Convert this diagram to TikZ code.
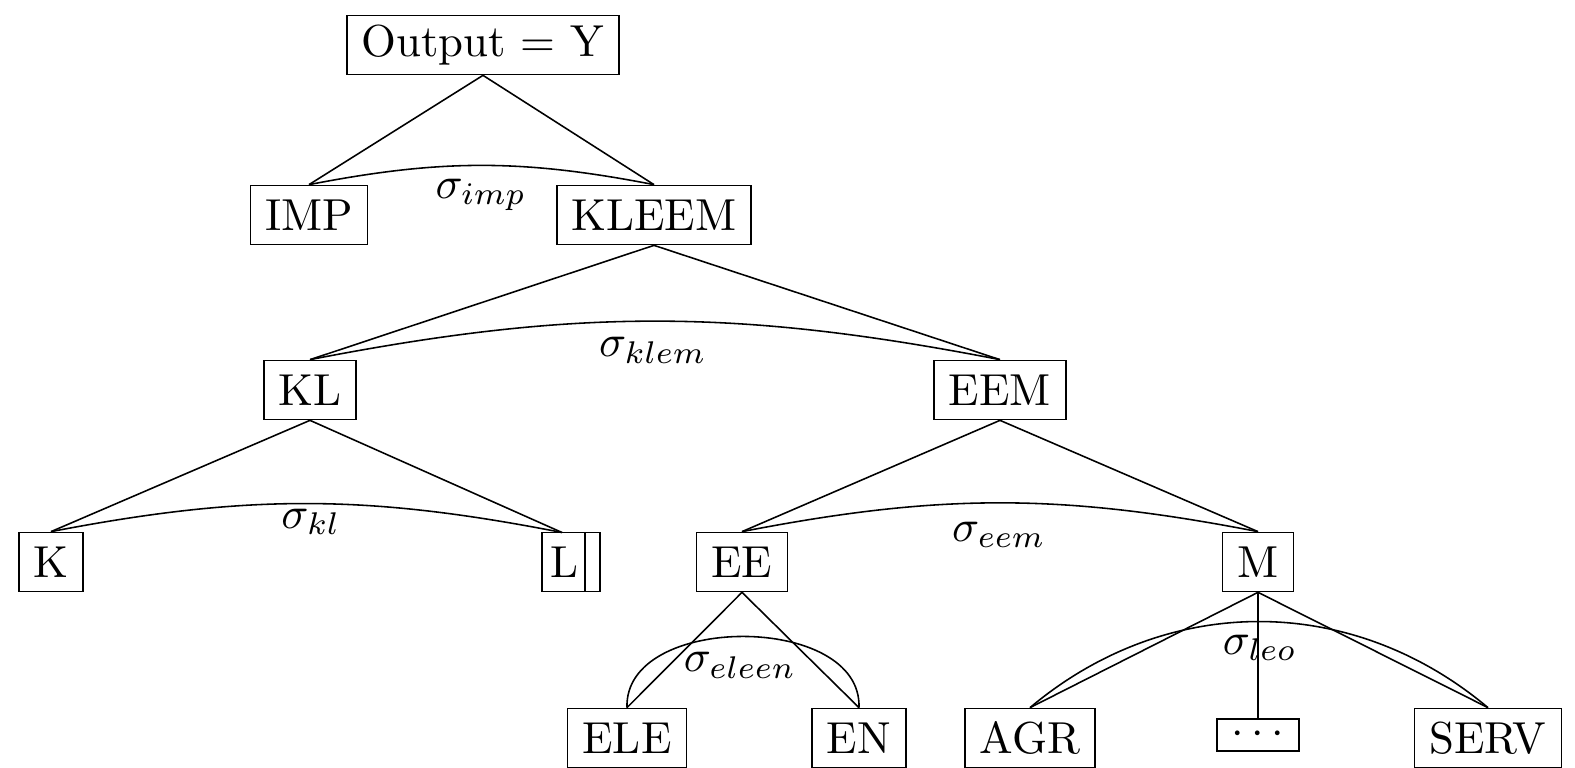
\documentclass[tikz,border=0pt]{standalone}
\begin{document}
\begin{tikzpicture}[x=0.2232pt,y=0.2232pt,
  box/.style={draw,line width=0.35pt,inner xsep=3.3pt,inner ysep=0pt,minimum height=13.2pt},
  smallbox/.style={draw,line width=0.35pt,inner xsep=3.3pt,inner ysep=0pt,minimum height=7.2pt},
  ln/.style={line width=0.35pt},
  lab/.style={inner sep=0pt}]
\useasboundingbox (0,0) rectangle (1575,-768);
% nodes
\node[box] (out) at (483,-45) {Output = Y};
\node[box] (imp) at (309,-215) {IMP};
\node[box] (kleem) at (654,-215) {KLEEM};
\node[box] (kl) at (310,-390) {KL};
\node[box] (eem) at (1000,-390) {EEM};
\node[box] (k) at (51,-562) {K};
\node[box,minimum width=13pt,text width=9.8pt-6.6pt,align=center,inner xsep=3.3pt] (l) at (571,-562) {\hspace*{-3pt}L};
\draw[ln] (585,-533) -- (585,-591.5);
\coordinate (lt) at (562,-532.5);
\node[box] (ee) at (742,-562) {EE};
\node[box] (m) at (1258,-562) {M};
\node[box] (ele) at (627,-738) {ELE};
\node[box] (en) at (859,-738) {EN};
\node[box] (agr) at (1030,-738) {AGR};
\node[smallbox] (dots) at (1258,-735) {$\cdots$};
\node[box] (serv) at (1488,-738) {SERV};
% connectors
\draw[ln] (out.south) -- (imp.north);
\draw[ln] (out.south) -- (kleem.north);
\draw[ln] (kleem.south) -- (kl.north);
\draw[ln] (kleem.south) -- (eem.north);
\draw[ln] (kl.south) -- (k.north);
\draw[ln] (kl.south) -- (lt);
\draw[ln] (eem.south) -- (ee.north);
\draw[ln] (eem.south) -- (m.north);
\draw[ln] (ee.south) -- (ele.north);
\draw[ln] (ee.south) -- (en.north);
\draw[ln] (m.south) -- (agr.north);
\draw[ln] (m.south) -- (dots.north);
\draw[ln] (m.south) -- (serv.north);
% arcs
\draw[ln] (imp.north) to[bend left=11] (kleem.north);
\draw[ln] (kl.north) to[bend left=11] (eem.north);
\draw[ln] (k.north) to[bend left=11] (lt);
\draw[ln] (ee.north) to[bend left=11] (m.north);
\draw[ln] (ele.north) to[out=92,in=88,looseness=1.05] (en.north);
\draw[ln] (agr.north) to[bend left=40] (serv.north);
% labels
\node[lab] (simp) at (481,-195) {$\sigma_{imp}$};
\node[lab] (sklem) at (653,-350) {$\sigma_{klem}$};
\node[lab] (skl) at (311,-522) {$\sigma_{kl}$};
\node[lab] (seem) at (999,-535) {$\sigma_{eem}$};
\node[lab] (seleen) at (740,-665) {$\sigma_{eleen}$};
\node[lab] (sleo) at (1260,-648) {$\sigma_{leo}$};
\end{tikzpicture}
\end{document}
